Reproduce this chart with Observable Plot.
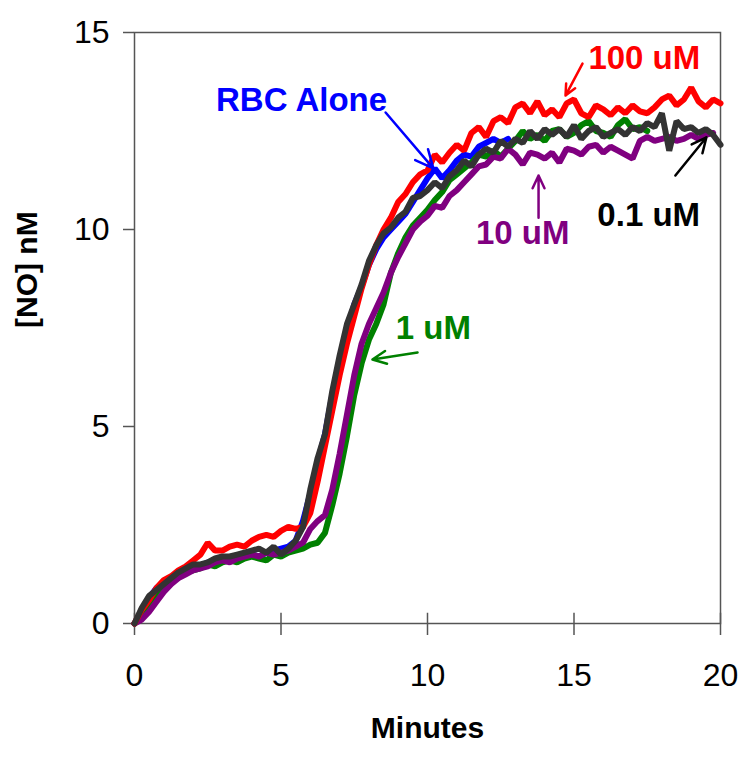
<!DOCTYPE html>
<html>
<head>
<meta charset="utf-8">
<script src="https://cdn.jsdelivr.net/npm/d3@7"></script>
<script src="https://cdn.jsdelivr.net/npm/@observablehq/plot@0.6"></script>
<style>
  html, body { margin: 0; padding: 0; background: #fff; }
  #chart svg { display: block; }
</style>
</head>
<body>
<div id="chart"></div>
<script>
// time grid (minutes), sampled every 0.25 min
const timeStep = 0.25;

// [NO] nM traces
const rbcAlone = [0.0,0.3,0.65,0.9,1.05,1.15,1.25,1.35,1.4,1.45,
  1.55,1.5,1.6,1.65,1.6,1.7,1.75,1.7,1.8,1.85,
  1.9,1.95,2.1,2.6,3.3,4.1,4.8,5.8,6.7,7.4,
  8.1,8.55,9.1,9.5,9.8,10.0,10.2,10.4,10.7,11.0,
  11.3,11.55,11.3,11.5,11.75,11.9,11.85,12.1,12.2,12.3,
  12.2,12.3];
const uM1 = [0.0,0.15,0.4,0.7,0.9,1.05,1.2,1.3,1.35,1.4,
  1.5,1.45,1.55,1.6,1.55,1.65,1.7,1.65,1.6,1.75,
  1.7,1.8,1.85,1.9,2.0,2.05,2.3,3.0,3.8,4.75,
  5.8,6.6,7.2,7.6,8.1,8.9,9.4,9.8,10.1,10.3,
  10.5,10.75,10.95,11.25,11.4,11.55,11.7,11.9,11.85,12.0,
  11.85,12.05,12.25,12.5,12.3,12.4,12.25,12.5,12.55,12.35,
  12.45,12.65,12.75,12.5,12.45,12.35,12.65,12.8,12.55,12.6,
  12.5];
const uM10 = [0.0,0.1,0.3,0.55,0.8,1.0,1.15,1.25,1.35,1.4,
  1.45,1.55,1.6,1.55,1.65,1.7,1.75,1.7,1.8,1.75,
  1.8,1.85,1.95,2.05,2.4,2.6,2.75,3.4,4.3,5.3,
  6.3,7.1,7.6,8.0,8.4,8.9,9.3,9.65,10.0,10.2,
  10.35,10.6,10.55,10.85,11.0,11.2,11.4,11.6,11.65,11.85,
  11.8,12.05,11.9,11.65,11.95,11.9,11.8,11.95,11.7,12.05,
  12.0,11.9,12.1,12.15,11.95,12.1,12.0,11.9,11.8,12.25,
  12.35,12.25,12.3,12.35,12.25,12.3,12.4,12.3,12.4,12.45];
const uM100 = [0.0,0.35,0.6,0.9,1.1,1.2,1.35,1.45,1.6,1.75,
  2.05,1.85,1.85,1.95,2.0,1.95,2.1,2.2,2.25,2.2,
  2.35,2.45,2.4,2.45,2.8,3.6,4.5,5.4,6.3,7.1,
  7.8,8.5,9.1,9.6,10.0,10.3,10.7,10.9,11.2,11.4,
  11.5,11.9,11.7,11.95,12.15,12.0,12.45,12.6,12.35,12.75,
  12.85,12.7,13.1,13.2,12.95,13.25,12.9,13.05,12.85,13.2,
  13.3,12.95,12.85,13.15,13.05,12.9,13.1,12.95,13.15,13.0,
  12.95,13.1,13.3,13.4,13.15,13.3,13.6,13.25,13.1,13.3,
  13.2];
const uM01 = [0.0,0.4,0.7,0.85,1.0,1.15,1.3,1.4,1.5,1.5,
  1.55,1.65,1.7,1.7,1.75,1.8,1.85,1.9,1.8,1.95,
  1.75,1.9,2.1,2.45,3.4,4.2,4.8,5.9,6.8,7.6,
  8.1,8.6,9.2,9.6,9.9,10.05,10.3,10.45,10.8,10.85,
  11.0,11.2,11.05,11.35,11.5,11.75,11.6,11.9,12.05,11.95,
  12.25,12.1,12.3,12.2,12.5,12.3,12.55,12.4,12.55,12.35,
  12.65,12.3,12.5,12.6,12.35,12.45,12.55,12.4,12.6,12.5,
  12.7,12.6,12.95,12.0,12.75,12.55,12.6,12.45,12.55,12.4,
  12.15];

// drawing order (bottom to top)
const seriesNames = ["RBC Alone", "1 uM", "10 uM", "100 uM", "0.1 uM"];
const seriesValues = [rbcAlone, uM1, uM10, uM100, uM01];
const seriesColors = ["#0000ff", "#008000", "#800080", "#ff0000", "#333333"];

const xTicks = [0, 5, 10, 15, 20];
const yTicks = [0, 5, 10, 15];

// annotation labels and their arrows (data coordinates)
const labelTexts = ["RBC Alone", "100 uM", "10 uM", "0.1 uM", "1 uM"];
const labelX = [5.7, 17.4, 13.25, 17.55, 10.2];
const labelY = [13.27, 14.34, 9.9, 10.36, 7.5];
const labelColors = ["#0000ff", "#ff0000", "#800080", "#000000", "#008000"];
const arrowFrom = [[8.57, 12.97], [15.29, 14.21], [13.79, 10.3], [18.46, 11.37], [9.66, 6.88]];
const arrowTo = [[10.2, 11.55], [14.71, 13.4], [13.79, 11.37], [19.52, 12.34], [8.12, 6.7]];

const lines = seriesValues.map((vals, k) => vals.map((v, i) => ({t: i * timeStep, v, name: seriesNames[k]})));
const labels = labelTexts.map((text, i) => ({text, x: labelX[i], y: labelY[i], color: labelColors[i]}));
const arrows = labelTexts.map((text, i) => ({x1: arrowFrom[i][0], y1: arrowFrom[i][1], x2: arrowTo[i][0], y2: arrowTo[i][1], color: labelColors[i]}));

const font = "'Liberation Sans', Arial, Helvetica, sans-serif";

const chart = Plot.plot({
  width: 747,
  height: 762,
  marginLeft: 134,
  marginRight: 27,
  marginTop: 32,
  marginBottom: 139,
  style: {fontFamily: font, background: "#fff", color: "#000"},
  x: {domain: [0, 20]},
  y: {domain: [0, 15]},
  marks: [
    Plot.frame({stroke: "#555", strokeWidth: 1.5}),
    Plot.axisY({ticks: yTicks, tickSize: 11, tickPadding: 14, fontSize: 32, label: null, stroke: "#555", strokeWidth: 1.5, fill: "#000"}),
    Plot.axisX({ticks: xTicks, tickSize: 12, tickPadding: 28, fontSize: 32, label: null, stroke: "#555", strokeWidth: 1.5, fill: "#000"}),
    Plot.ruleX(xTicks, {x: d => d, y1: 0, y2: 0.26, stroke: "#555", strokeWidth: 1.5}),
    ...lines.map((data, k) => Plot.line(data, {x: "t", y: "v", stroke: seriesColors[k], strokeWidth: 6, strokeLinejoin: "miter"})),
    Plot.arrow(arrows, {x1: "x1", y1: "y1", x2: "x2", y2: "y2", stroke: "color", strokeWidth: 2.5, headLength: 12, headAngle: 50}),
    Plot.text(labels, {x: "x", y: "y", text: "text", fill: "color", fontSize: 33, fontWeight: "bold"}),
    Plot.text(["Minutes"], {frameAnchor: "bottom", dy: 114, text: d => d, fontSize: 30, fontWeight: "bold", fill: "#000"}),
    Plot.text(["[NO] nM"], {frameAnchor: "left", dx: -107, rotate: -90, text: d => d, fontSize: 30, fontWeight: "bold", fill: "#000"})
  ]
});
document.getElementById("chart").appendChild(chart);
</script>
</body>
</html>
